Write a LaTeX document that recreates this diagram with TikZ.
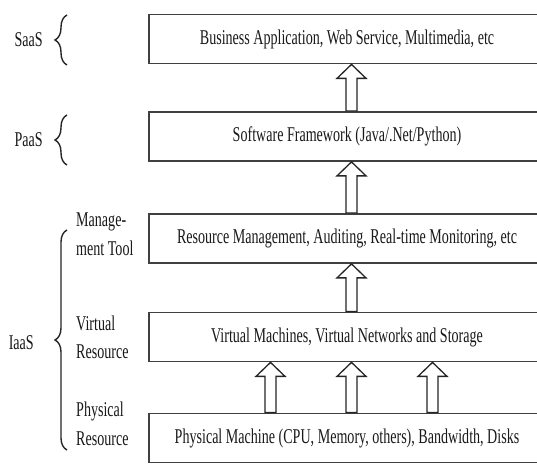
\documentclass[tikz,border=0pt]{standalone}
\usepackage{fontspec}
\setmainfont{Liberation Serif}[FakeStretch=0.67]
\usetikzlibrary{calc,decorations.pathreplacing}
\tikzset{
  layer/.style={draw=black!75, line width=1.8pt, fill=white, minimum width=396pt,
    minimum height=49pt, inner sep=0pt, font=\fontsize{21}{24}\selectfont, text=black!90},
  blockarr/.style={draw=black!85, line width=1.3pt, fill=white, line join=miter},
  sidelabel/.style={font=\fontsize{21}{28.5}\selectfont, text=black!90, align=left, inner sep=0pt},
  brc/.style={draw=black!85, line width=1.4pt, decorate, decoration={brace, amplitude=12pt}},
}
% #1 = x position (pt), #2 = lower node, #3 = upper node
\newcommand\uparr[3]{%
  \draw[blockarr] let \p1=(#2.north), \p2=(#3.south) in
    (#1pt-5.5pt,\y1) -- (#1pt-5.5pt,\y2-14pt) -- (#1pt-14.5pt,\y2-14pt) -- (#1pt,\y2)
    -- (#1pt+14.5pt,\y2-14pt) -- (#1pt+5.5pt,\y2-14pt) -- (#1pt+5.5pt,\y1) -- cycle;}
\begin{document}
\begin{tikzpicture}[x=1pt,y=1pt]
\useasboundingbox (0,0) rectangle (537,465);
\clip (0,0) rectangle (537,465);
\fill[white] (0,0) rectangle (537,465);
% layers
\node[layer] (b1) at (347,426) {Business Application, Web Service, Multimedia, etc};
\node[layer] (b2) at (347,328.5) {Software Framework (Java/.Net/Python)};
\node[layer] (b3) at (347,226.5) {Resource Management, Auditing, Real-time Monitoring, etc};
\node[layer] (b4) at (347,128) {Virtual Machines, Virtual Networks and Storage};
\node[layer] (b5) at (347,27) {Physical Machine (CPU, Memory, others), Bandwidth, Disks};
% arrows
\uparr{351.5}{b2}{b1}
\uparr{351.5}{b3}{b2}
\uparr{351.5}{b4}{b3}
\uparr{270.5}{b5}{b4}
\uparr{351.5}{b5}{b4}
\uparr{432.5}{b5}{b4}
% braces
\coordinate (s1) at (67,400); \coordinate (s2) at (67,450);
\coordinate (p1) at (67,300); \coordinate (p2) at (67,350);
\coordinate (i1) at (67,15);  \coordinate (i2) at (67,235);
\draw[brc] (s1) -- (s2);
\draw[brc] (p1) -- (p2);
\draw[brc] (i1) -- (i2);
% category labels
\node[sidelabel, anchor=east] (saas) at (43,425) {SaaS};
\node[sidelabel, anchor=east] (paas) at (43,325) {PaaS};
\node[sidelabel, anchor=east] (iaas) at (34,122) {IaaS};
% sub labels
\node[sidelabel, anchor=west] (mt) at (76,231) {Manage-\\ment Tool};
\node[sidelabel, anchor=west] (vr) at (76,127.5) {Virtual\\Resource};
\node[sidelabel, anchor=west] (pr) at (76,41) {Physical\\Resource};
\end{tikzpicture}
\end{document}
